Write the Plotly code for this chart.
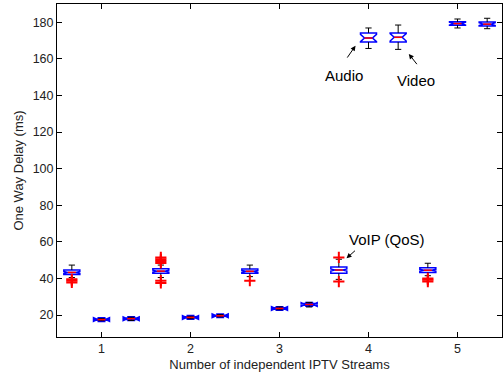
import plotly.graph_objects as go

# ---- data ----
positions = [2/3 + k/3 for k in range(15)]
medians = [43.3, 17.5, 18.0, 44.0, 18.7, 19.6, 43.9, 23.6, 25.8, 44.6, 171.4, 171.8, 44.5, 179.3, 179.0]
q1s     = [42.2, 17.2, 17.6, 42.8, 18.4, 19.3, 42.8, 23.2, 25.3, 42.8, 169.2, 169.2, 43.3, 178.4, 178.0]
q3s     = [44.6, 17.8, 18.4, 45.3, 19.0, 19.9, 45.1, 24.0, 26.3, 46.2, 174.2, 174.2, 45.9, 180.3, 180.1]
lows    = [40.5, 16.9, 17.0, 40.5, 18.0, 19.0, 41.0, 22.9, 24.4, 39.5, 165.7, 165.2, 41.5, 176.9, 176.5]
highs   = [47.3, 18.0, 18.8, 47.3, 19.3, 20.2, 47.3, 24.4, 26.9, 50.5, 176.9, 178.5, 48.3, 181.8, 182.2]
notches = [0.5, 1.0, 1.0, 0.5, 1.0, 1.0, 0.5, 1.0, 1.0, 0.6, 2.0, 2.0, 0.5, 0.8, 0.8]
outliers = [
    [39.5, 38.8, 37.8], [], [], [48.5, 49.5, 50.5, 51.5, 38.8, 37.5], [], [],
    [38.8], [], [], [51.5, 38.3], [], [], [40.0, 39.3, 38.3], [], [],
]
xticks = [1, 2, 3, 4, 5]
yticks = [20, 40, 60, 80, 100, 120, 140, 160, 180]

BOXW = 0.18
CAPW = 0.035
MEDW = 0.045

fig = go.Figure()

fig.add_trace(go.Box(
    x=positions, q1=q1s, median=medians, q3=q3s,
    lowerfence=q1s, upperfence=q3s, notchspan=notches, notched=True,
    notchwidth=0.25, width=BOXW, boxpoints=False,
    line=dict(color="#0000ff", width=1.5), fillcolor="rgba(0,0,0,0)",
    hoverinfo="skip",
))

# whiskers (black)
wx, wy = [], []
for p, a, b, lo, hi in zip(positions, q1s, q3s, lows, highs):
    wx += [p, p, None, p, p, None, p - CAPW, p + CAPW, None, p - CAPW, p + CAPW, None]
    wy += [b, hi, None, a, lo, None, hi, hi, None, lo, lo, None]
fig.add_trace(go.Scatter(x=wx, y=wy, mode="lines", line=dict(color="black", width=1), hoverinfo="skip"))

# medians (red)
mx, my = [], []
for p, m in zip(positions, medians):
    mx += [p - MEDW, p + MEDW, None]
    my += [m, m, None]
fig.add_trace(go.Scatter(x=mx, y=my, mode="lines", line=dict(color="red", width=1.5), hoverinfo="skip"))

# outliers (red +)
ox, oy = [], []
for p, outs in zip(positions, outliers):
    for v in outs:
        ox.append(p)
        oy.append(v)
fig.add_trace(go.Scatter(x=ox, y=oy, mode="markers",
                         marker=dict(symbol="cross-thin", size=8, line=dict(color="red", width=2)),
                         hoverinfo="skip"))

axis_common = dict(showline=True, linecolor="black", linewidth=1, mirror="ticks",
                   ticks="inside", ticklen=5, tickcolor="black", showgrid=False,
                   zeroline=False, tickfont=dict(size=12.5, color="#222"))

fig.update_layout(
    width=504, height=376,
    margin=dict(l=57, r=2, t=4, b=39),
    paper_bgcolor="white", plot_bgcolor="white",
    showlegend=False,
    font=dict(family="Liberation Sans, Arial, sans-serif", color="#222"),
    xaxis=dict(range=[0.5, 5.5], tickvals=xticks,
               title=dict(text="Number of independent IPTV Streams", font=dict(size=13), standoff=4),
               **axis_common),
    yaxis=dict(range=[8, 190], tickvals=yticks,
               title=dict(text="One Way Delay (ms)", font=dict(size=13), standoff=6),
               **axis_common),
)

ann_font = dict(size=15, color="black", family="Liberation Sans, Arial, sans-serif")
fig.add_annotation(x=3.72, y=150.8, text="Audio", showarrow=False, font=ann_font)
fig.add_annotation(x=4.53, y=148.0, text="Video", showarrow=False, font=ann_font)
fig.add_annotation(x=4.21, y=61.4, text="VoIP (QoS)", showarrow=False, font=ann_font)

arrow = dict(text="", showarrow=True, arrowhead=2, arrowsize=1, arrowwidth=1,
             arrowcolor="black", axref="x", ayref="y")
fig.add_annotation(x=3.854, y=167.2, ax=3.75, ay=159.9, **arrow)
fig.add_annotation(x=4.453, y=162.7, ax=4.557, ay=156.3, **arrow)
fig.add_annotation(x=3.753, y=51.0, ax=3.865, ay=55.9, **arrow)

fig.write_html("out.html")
